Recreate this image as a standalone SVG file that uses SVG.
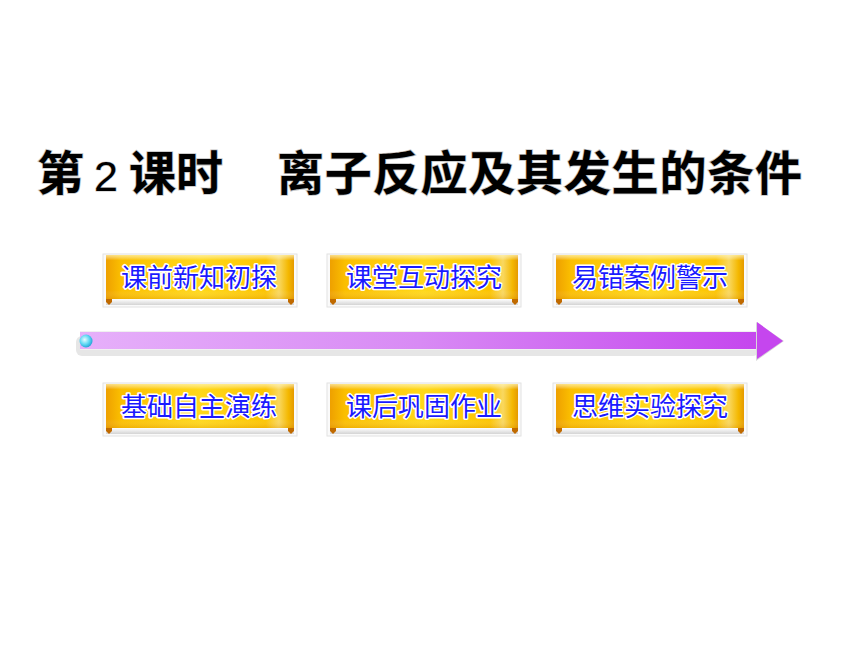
<svg xmlns="http://www.w3.org/2000/svg" width="860" height="645" viewBox="0 0 860 645">
<defs>
<style>
.title{font-family:"Noto Sans CJK SC","Noto Sans",sans-serif;font-weight:bold;font-size:47px;fill:#000;stroke:#c4c4c4;stroke-width:1.6;paint-order:stroke;}
.digit{font-family:"Liberation Sans",sans-serif;font-size:43px;fill:#000;stroke:#c8c8c8;stroke-width:1.2;paint-order:stroke;}
.btxt{font-family:"Noto Sans CJK SC","Noto Sans",sans-serif;font-size:26px;font-weight:400;fill:#1a1aff;stroke:#ffffff;stroke-width:3;paint-order:stroke;stroke-linejoin:round;text-anchor:middle;}
</style>
<linearGradient id="goldH" x1="0" y1="0" x2="1" y2="0">
<stop offset="0" stop-color="#eea000"/>
<stop offset="0.08" stop-color="#fbbf00"/>
<stop offset="0.5" stop-color="#ffd81a"/>
<stop offset="0.85" stop-color="#fcc400"/>
<stop offset="0.92" stop-color="#f9d860"/>
<stop offset="0.97" stop-color="#f4b800"/>
<stop offset="1" stop-color="#e59a00"/>
</linearGradient>
<linearGradient id="goldV" x1="0" y1="0" x2="0" y2="1">
<stop offset="0" stop-color="#fff6c0" stop-opacity="0.7"/>
<stop offset="0.12" stop-color="#fff" stop-opacity="0"/>
<stop offset="0.8" stop-color="#fff" stop-opacity="0"/>
<stop offset="1" stop-color="#d08000" stop-opacity="0.25"/>
</linearGradient>
<linearGradient id="strip" x1="0" y1="0" x2="0" y2="1">
<stop offset="0" stop-color="#ffffff"/>
<stop offset="1" stop-color="#d4d4d4"/>
</linearGradient>
<linearGradient id="barG" x1="0" y1="0" x2="1" y2="0">
<stop offset="0" stop-color="#e6b0fa"/>
<stop offset="0.5" stop-color="#d88af4"/>
<stop offset="1" stop-color="#c546ee"/>
</linearGradient>
<radialGradient id="ball" cx="0.4" cy="0.4" r="0.6">
<stop offset="0" stop-color="#e8fcff"/>
<stop offset="0.6" stop-color="#60d8f4"/>
<stop offset="1" stop-color="#28a8d8"/>
</radialGradient>
<g id="btn">
<rect x="0" y="0" width="194" height="53" fill="#fafafa" stroke="#e2e2e2" stroke-width="1"/>
<rect x="3" y="1" width="188" height="44" fill="url(#goldH)"/>
<rect x="3" y="1" width="188" height="44" fill="url(#goldV)"/>
<rect x="3" y="45" width="188" height="6" fill="url(#strip)"/>
<polygon points="3,45 9,45 9,48 6,51 3,48" fill="#c06a00"/>
<polygon points="185,45 191,45 191,48 188,51 185,48" fill="#c06a00"/>
</g>
</defs>
<rect width="860" height="645" fill="#ffffff"/>

<g id="title">
<text class="title" x="37" y="190">第</text>
<text class="digit" x="94" y="191">2</text>
<text class="title" x="129" y="190">课时</text>
<text class="title" x="277" y="190" textLength="525" lengthAdjust="spacing">离子反应及其发生的条件</text>
</g>

<g id="connectors">
<rect x="76" y="336" width="683" height="20" rx="6" fill="#e6e6e6"/>
<rect x="80" y="331" width="679" height="19" fill="#f0f0f0"/>
<rect x="80" y="332" width="679" height="17" fill="url(#barG)"/>
<polygon points="756,322 784,341 756,361" fill="#d8d8d8"/>
<polygon points="757,322 783,341 757,359" fill="#c546ee"/>
<circle cx="86" cy="341" r="6.5" fill="url(#ball)"/>
</g>

<g id="n1"><use href="#btn" x="103" y="254"/><text class="btxt" x="199" y="287">课前新知初探</text></g>
<g id="n2"><use href="#btn" x="327" y="254"/><text class="btxt" x="424" y="287">课堂互动探究</text></g>
<g id="n3"><use href="#btn" x="553" y="254"/><text class="btxt" x="650" y="287">易错案例警示</text></g>
<g id="n4"><use href="#btn" x="103" y="383"/><text class="btxt" x="199" y="416">基础自主演练</text></g>
<g id="n5"><use href="#btn" x="327" y="383"/><text class="btxt" x="424" y="416">课后巩固作业</text></g>
<g id="n6"><use href="#btn" x="553" y="383"/><text class="btxt" x="650" y="416">思维实验探究</text></g>
</svg>
